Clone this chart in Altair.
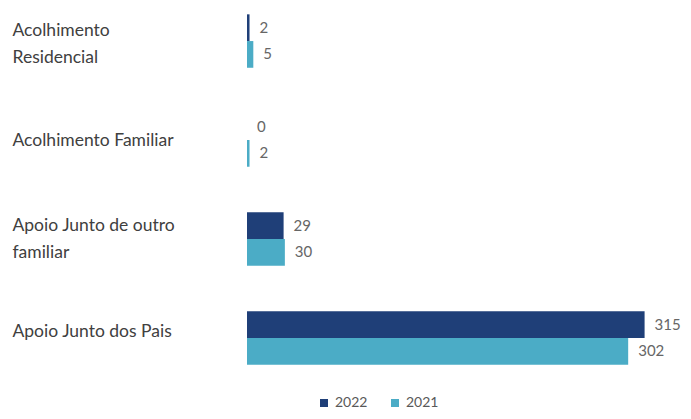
import altair as alt
import pandas as pd

categories = ["Acolhimento|Residencial", "Acolhimento Familiar",
              "Apoio Junto de outro|familiar", "Apoio Junto dos Pais"]
years = ["2022", "2021"]
values_2022 = [2, 0, 29, 315]
values_2021 = [5, 2, 30, 302]
colors = ["#1F3F78", "#4BACC6"]

rows = []
for c, v22, v21 in zip(categories, values_2022, values_2021):
    rows.append({"cat": c, "year": "2022", "value": v22})
    rows.append({"cat": c, "year": "2021", "value": v21})
df = pd.DataFrame(rows)

label_offset = {
    "condition": [
        {"test": f"datum.value == '{categories[0]}'", "value": -10},
        {"test": f"datum.value == '{categories[1]}'", "value": 1},
        {"test": f"datum.value == '{categories[2]}'", "value": -13},
        {"test": f"datum.value == '{categories[3]}'", "value": -6},
    ],
    "value": 0,
}

base = alt.Chart(df).encode(
    y=alt.Y("cat:N", sort=categories,
            scale=alt.Scale(paddingInner=0.46, paddingOuter=0.064),
            axis=alt.Axis(title=None, domain=False, ticks=False, tickSize=0,
                          labelAlign="left", labelPadding=235,
                          labelExpr="split(datum.label, '|')",
                          labelFont="Lato", labelFontSize=17.5,
                          labelColor="#404040", labelLineHeight=27,
                          labelOffset=label_offset,
                          labelLimit=232)),
    yOffset=alt.YOffset("year:N", sort=years, scale=alt.Scale(paddingInner=0, paddingOuter=0)),
)

bars = base.mark_bar().encode(
    x=alt.X("value:Q", scale=alt.Scale(domain=[0, 328], nice=False),
            axis=None),
    color=alt.Color("year:N", sort=years,
                    scale=alt.Scale(domain=years, range=colors),
                    legend=alt.Legend(title=None, orient="none", direction="horizontal",
                                      legendX=70, legendY=388,
                                      symbolType="square", symbolSize=64,
                                      labelFont="Lato", labelFontSize=14,
                                      labelColor="#595959", columnPadding=20)),
)

labels = base.mark_text(align="left", baseline="middle", dx=10,
                        font="Lato", fontSize=15, color="#666666").encode(
    x=alt.X("value:Q"),
    text=alt.Text("value:Q"),
)

chart = alt.layer(bars, labels).properties(
    width=414, height=363,
    autosize=alt.AutoSizeParams(type="none"),
    padding={"left": 239, "top": 0, "right": 22, "bottom": 46},
).configure_view(stroke=None)

chart.save("out.html", embed_options={"renderer": "svg", "actions": False})
